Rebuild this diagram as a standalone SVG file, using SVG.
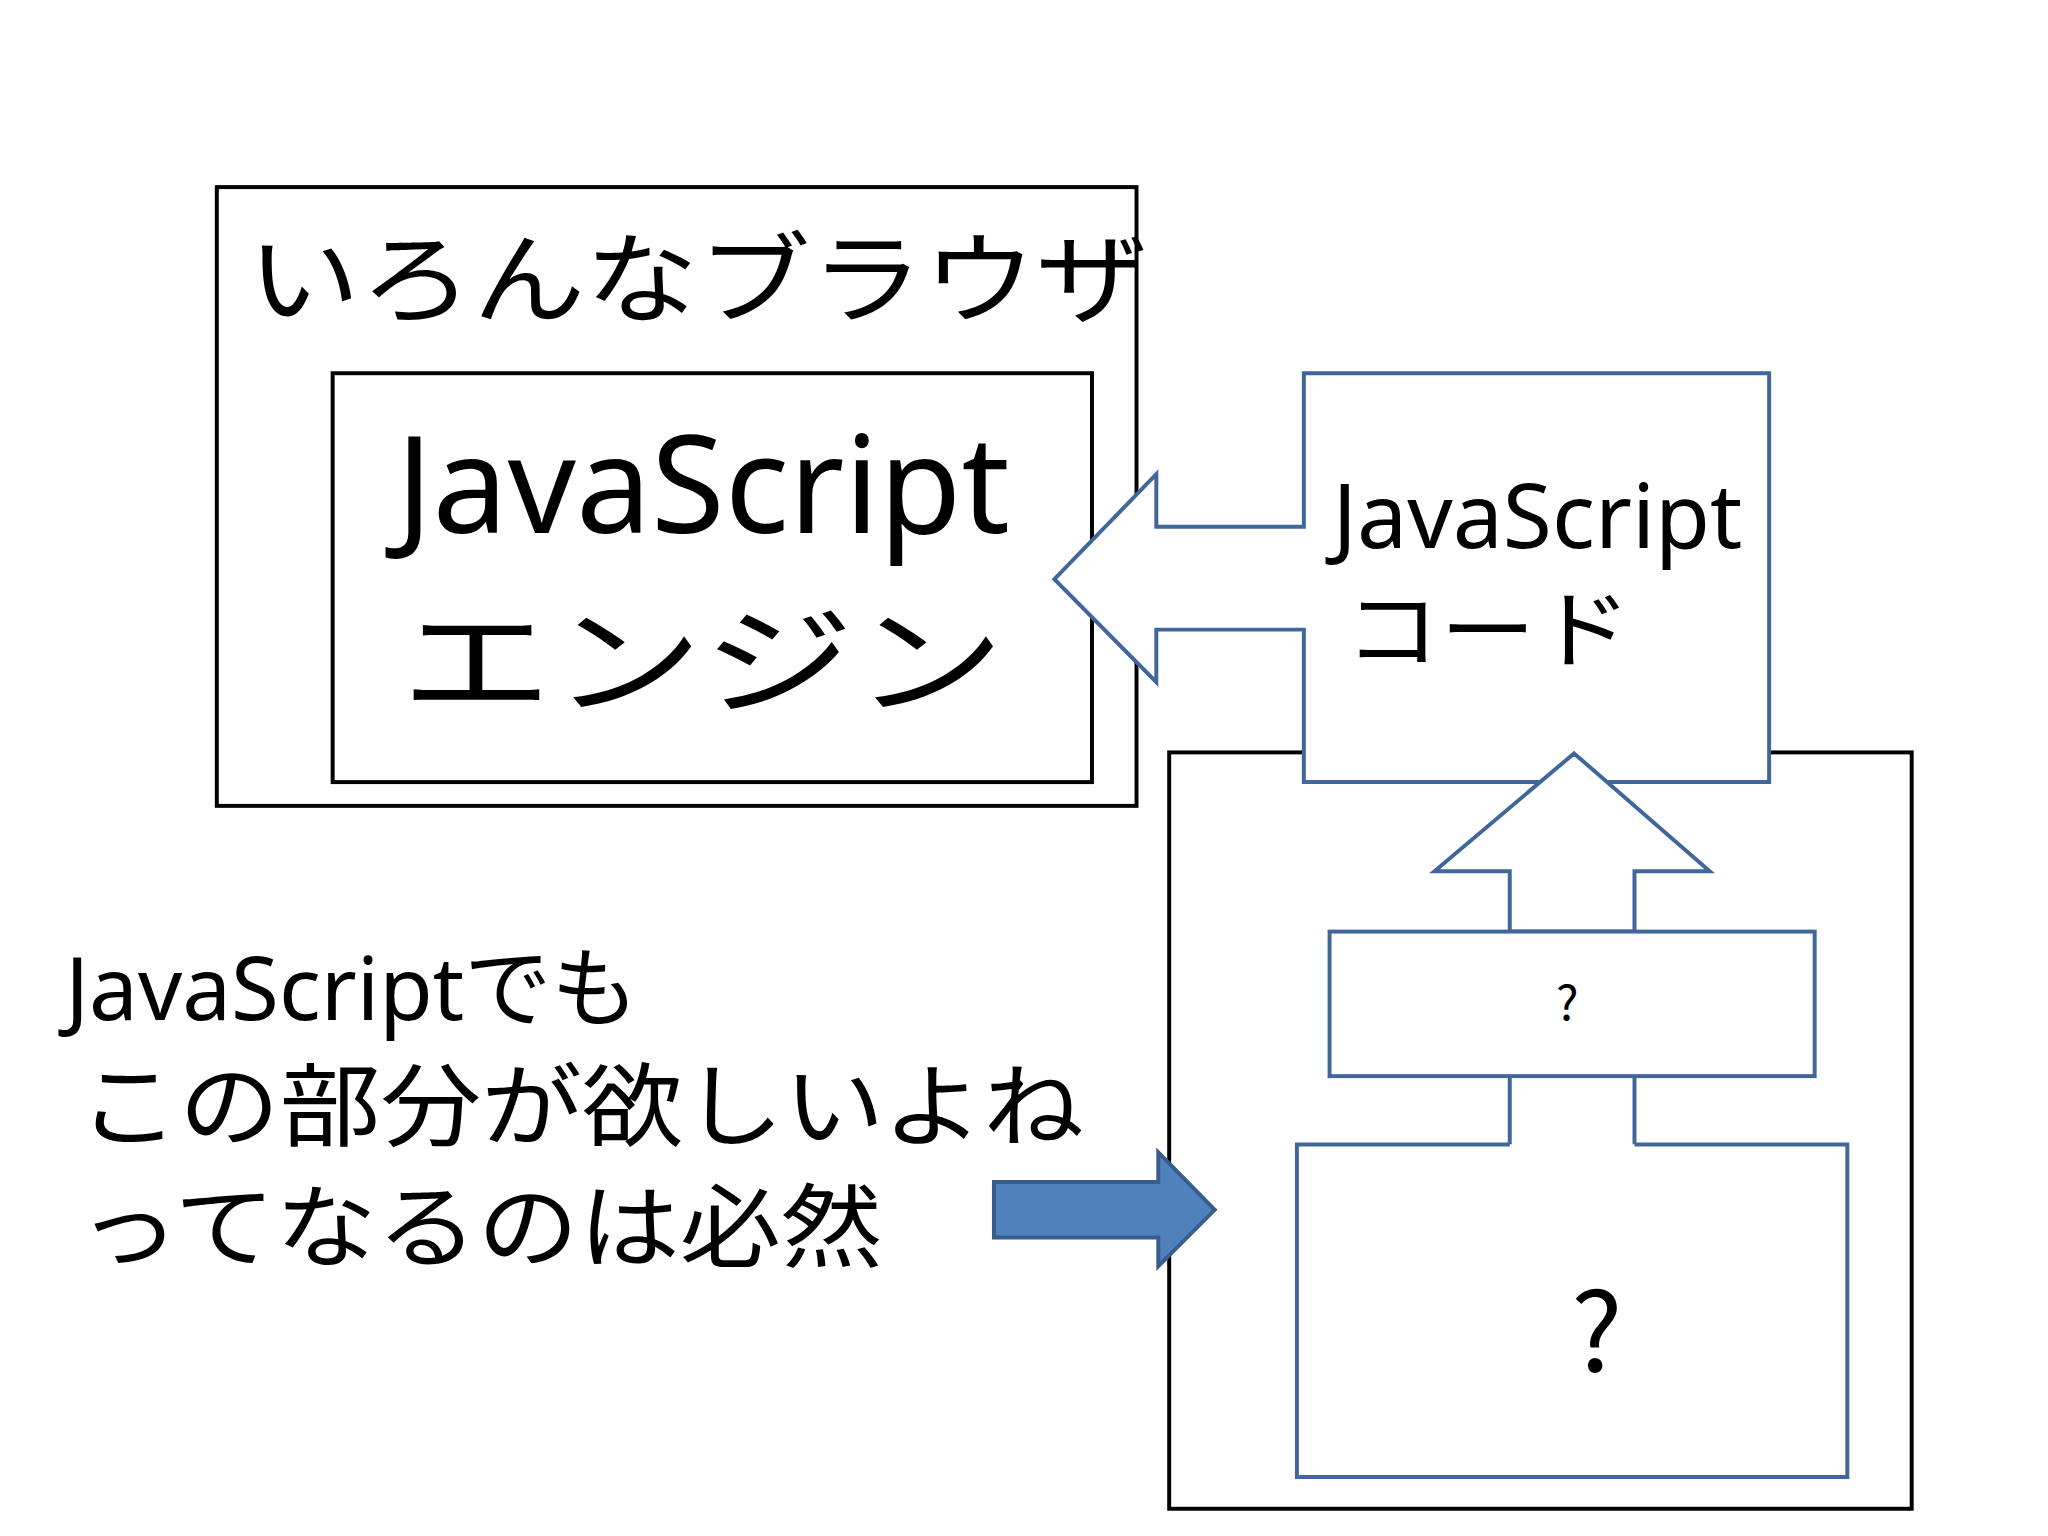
<svg xmlns="http://www.w3.org/2000/svg" width="2048" height="1536" viewBox="0 0 2048 1536">
<style>
.blk{fill:none;stroke:#000;stroke-width:4}
.blu{fill:#fff;stroke:#41669a;stroke-width:4}
.jp{font-family:"Noto Sans CJK JP",sans-serif;fill:#000}
.en{font-family:"Noto Sans","Open Sans",sans-serif;fill:#000}
</style>
<rect width="2048" height="1536" fill="#fff"/>
<g transform="scale(0.99)">
<g id="browser">
<rect class="blk" x="219" y="189" width="929" height="625"/>
<text class="jp" x="250" y="318" font-size="100" textLength="910" lengthAdjust="spacingAndGlyphs">いろんなブラウザ</text>
</g>
<g id="engine">
<rect class="blk" x="336" y="377" width="767" height="413"/>
<text class="en" x="400" y="538" font-size="136" textLength="620" lengthAdjust="spacingAndGlyphs">JavaScript</text>
<text class="jp" x="405" y="712" font-size="120" textLength="610" lengthAdjust="spacingAndGlyphs">エンジン</text>
</g>
<g id="container">
<rect class="blk" x="1181" y="760" width="750" height="764"/>
</g>
<g id="code">
<polygon class="blu" points="1317,377 1787,377 1787,790 1317,790 1317,636 1168,636 1168,689 1065,585 1168,479 1168,532 1317,532"/>
<text class="en" x="1346" y="554" font-size="90" textLength="414" lengthAdjust="spacingAndGlyphs">JavaScript</text>
<text class="jp" x="1358" y="668" font-size="86" textLength="290" lengthAdjust="spacingAndGlyphs">コード</text>
</g>
<g id="connectors">
<polygon class="blu" points="1590,761 1727,880 1651,880 1651,941 1525,941 1525,880 1449,880"/>
<line x1="1525" y1="1087" x2="1525" y2="1156" stroke="#41669a" stroke-width="4"/>
<line x1="1651" y1="1087" x2="1651" y2="1156" stroke="#41669a" stroke-width="4"/>
<polygon points="1004,1194 1170,1194 1170,1164 1227,1222 1170,1279 1170,1250 1004,1250" fill="#4f81bd" stroke="#385d8a" stroke-width="4"/>
</g>
<g id="mid">
<rect class="blu" x="1343" y="941" width="490" height="146"/>
<text class="jp" x="1583" y="1030" font-size="48" text-anchor="middle">?</text>
</g>
<g id="bottom">
<path d="M1525,1156 L1310,1156 L1310,1492 L1866,1492 L1866,1156 L1651,1156" class="blu"/>
<text class="jp" x="1613" y="1386" font-size="110" text-anchor="middle">?</text>
</g>
<g id="note">
<text x="66" y="1030"><tspan class="en" font-size="88">JavaScript</tspan><tspan class="jp" font-size="88">でも</tspan></text>
<text class="jp" x="79" y="1151" font-size="92" textLength="1016" lengthAdjust="spacingAndGlyphs">この部分が欲しいよね</text>
<text class="jp" x="79" y="1273" font-size="92" textLength="812" lengthAdjust="spacingAndGlyphs">ってなるのは必然</text>
</g>
</g>
</svg>
